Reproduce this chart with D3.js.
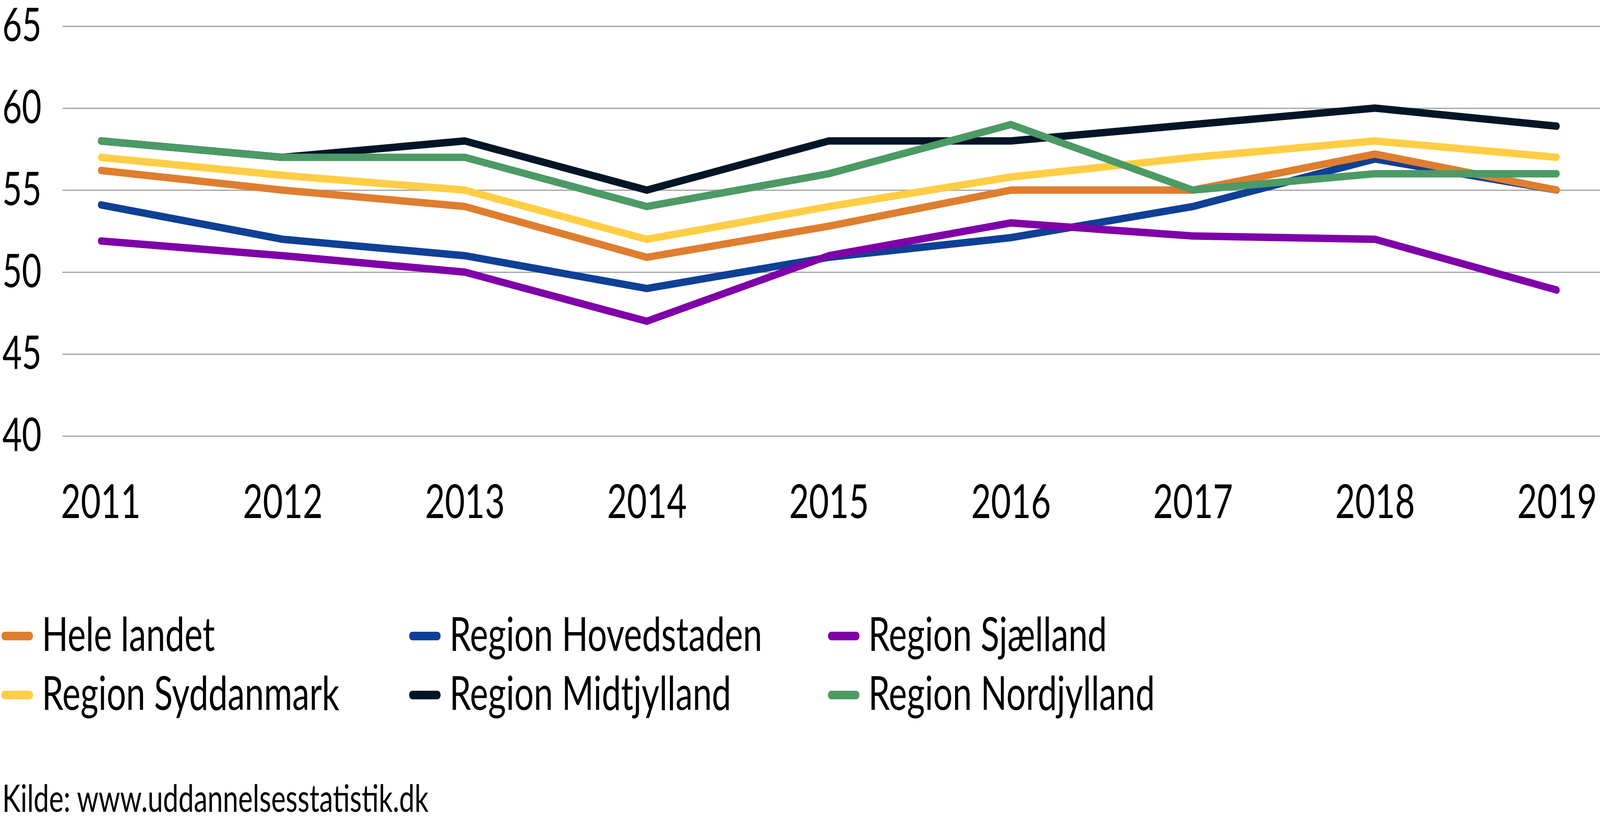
<!DOCTYPE html>
<html>
<head>
<meta charset="utf-8">
<script src="https://cdn.jsdelivr.net/npm/d3@7"></script>
<style>
  html, body { margin: 0; padding: 0; background: #fff; overflow: hidden; }
  svg { display: block; width: 100vw; height: 100vh; font-family: Lato, 'Noto Sans', sans-serif; }
</style>
</head>
<body>
<!-- drawn in a 5581x2104 frame, stretched to whatever the window is -->
<svg id="chart" viewBox="0 0 5581 2104" preserveAspectRatio="none"></svg>
<script>
/* global d3 */
const years = ['2011', '2012', '2013', '2014', '2015', '2016', '2017', '2018', '2019']
const yTicks = [40, 45, 50, 55, 60, 65]

const heleLandet = [56.2, 55, 54, 50.9, 52.8, 55, 55, 57.2, 55]
const hovedstaden = [54.1, 52, 51, 49, 50.9, 52.1, 54, 56.9, 55]
const sjaelland = [51.9, 51, 50, 47, 51, 53, 52.2, 52, 48.9]
const syddanmark = [57, 55.9, 55, 52, 54, 55.8, 57, 58, 57]
const midtjylland = [58, 57, 58, 55, 58, 58, 59, 60, 58.9]
const nordjylland = [58, 57, 57, 54, 56, 59, 55, 56, 56]

const seriesNames = ['Hele landet', 'Region Hovedstaden', 'Region Sjælland',
  'Region Syddanmark', 'Region Midtjylland', 'Region Nordjylland']
const seriesValues = [heleLandet, hovedstaden, sjaelland, syddanmark, midtjylland, nordjylland]
const seriesColors = ['#df7e2f', '#0f4096', '#7f00a8', '#ffce45', '#001526', '#4c9a66']
// order the lines are painted in (last one on top)
const drawOrder = [1, 2, 3, 4, 0, 5]

const source = 'Kilde: www.uddannelsesstatistik.dk'

const svg = d3.select('#chart')
const W = 5581
const font = 'Lato, "Noto Sans", sans-serif'
const plotLeft = 218
const plotTop = 67
const plotBottom = 1116

const x = d3.scalePoint()
  .domain(years)
  .range([351, 5431])

const y = d3.scaleLinear()
  .domain([40, 65])
  .range([plotBottom, plotTop])

svg.append('rect')
  .attr('width', W)
  .attr('height', 2104)
  .attr('fill', '#fff')

// grid + y labels
const yAxis = d3.axisLeft(y)
  .tickValues(yTicks)
  .tickSizeInner(-(W - plotLeft))
  .tickSizeOuter(0)

const gy = svg.append('g')
  .attr('transform', 'translate(' + plotLeft + ',0)')
  .call(yAxis)
gy.select('.domain').remove()
gy.selectAll('line')
  .attr('stroke', '#a0a0a0')
  .attr('stroke-width', 3)
gy.selectAll('text')
  .attr('x', 8 - plotLeft)
  .attr('text-anchor', 'start')
  .attr('fill', '#000')
  .attr('dy', '0.32em')
  .style('font-family', font)
  .style('font-size', '118px')

// x labels
const xAxis = d3.axisBottom(x).tickSize(0)
const gx = svg.append('g')
  .attr('transform', 'translate(0,' + plotBottom + ')')
  .call(xAxis)
gx.select('.domain').remove()
gx.selectAll('text')
  .attr('y', 1326 - plotBottom)
  .attr('dy', null)
  .attr('fill', '#000')
  .style('font-family', font)
  .style('font-size', '120px')

// lines
const line = d3.line()
  .x((d, i) => x(years[i]))
  .y(d => y(d))

svg.append('g')
  .selectAll('path')
  .data(drawOrder)
  .join('path')
  .attr('d', k => line(seriesValues[k]))
  .attr('fill', 'none')
  .attr('stroke', k => seriesColors[k])
  .attr('stroke-width', 19)
  .attr('stroke-linecap', 'round')
  .attr('stroke-linejoin', 'round')

// legend, 3 columns x 2 rows (positions are text baselines)
const legCols = [0, 1422, 2883]
const legRows = [1666, 1817]
const leg = svg.append('g')
  .selectAll('g')
  .data(seriesNames)
  .join('g')
  .attr('transform', (d, i) => 'translate(' + legCols[i % 3] + ',' + legRows[Math.floor(i / 3)] + ')')

leg.append('line')
  .attr('x1', 16)
  .attr('x2', 104)
  .attr('y1', -38)
  .attr('y2', -38)
  .attr('stroke', (d, i) => seriesColors[i])
  .attr('stroke-width', 22)
  .attr('stroke-linecap', 'round')

leg.append('text')
  .attr('x', 146)
  .attr('fill', '#000')
  .style('font-family', font)
  .style('font-size', '120px')
  .text(d => d)

svg.append('text')
  .attr('x', 8)
  .attr('y', 2078)
  .attr('fill', '#000')
  .style('font-family', font)
  .style('font-size', '96px')
  .text(source)
</script>
</body>
</html>
